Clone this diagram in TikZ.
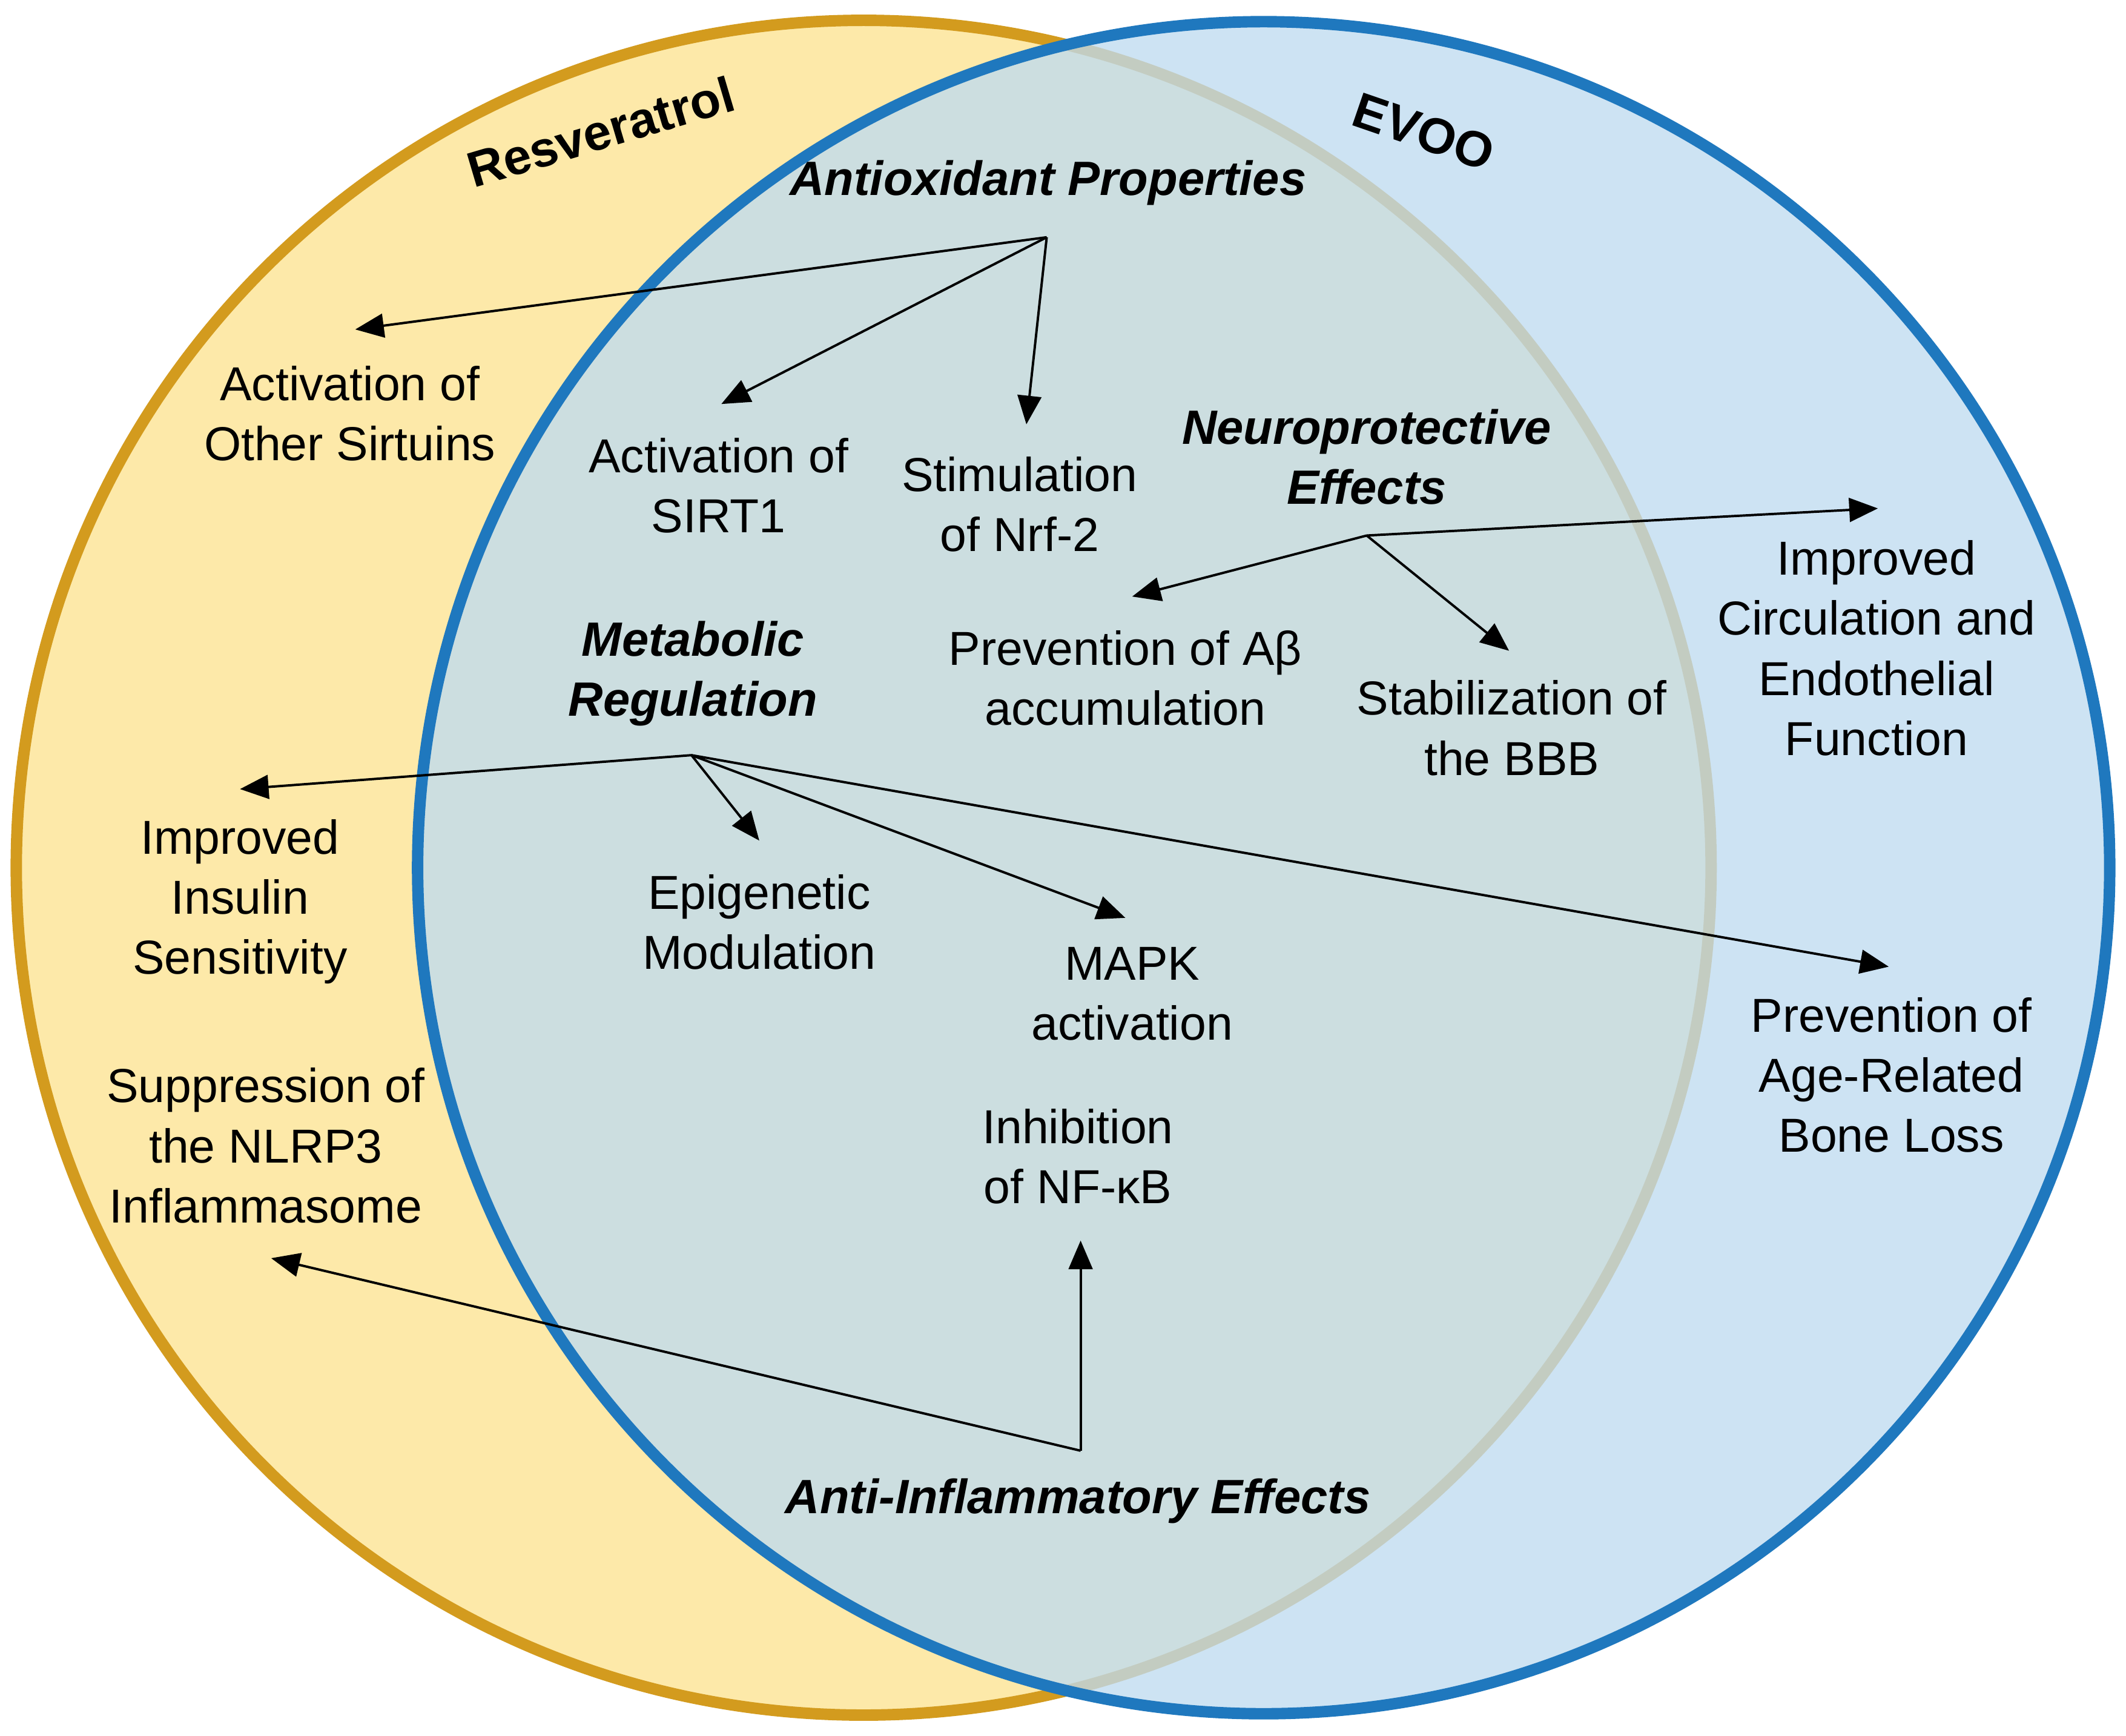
\documentclass[tikz,border=0pt]{standalone}
\usepackage{fontspec}
\setmainfont{Liberation Sans}
\usetikzlibrary{arrows.meta}
\definecolor{resfill}{HTML}{FDE9A9}
\definecolor{resline}{HTML}{D39B1E}
\definecolor{evoofill}{HTML}{BFDBF0}
\definecolor{evooline}{HTML}{1F78BE}
\begin{document}
\begin{tikzpicture}[x={(0.01cm,0)},y={(0,-0.01cm)},
  lbl/.style={align=center,font=\fontsize{10}{12.6}\selectfont,inner sep=0pt},
  head/.style={lbl,font=\fontsize{10.1}{12.6}\selectfont\bfseries\itshape},
  arr/.style={-{Triangle[length=6pt,width=5pt]},line width=0.5pt}]
\useasboundingbox (0,0) rectangle (1568,1280);
% circles
\draw[fill=resfill,draw=resline,line width=2.4pt] (637,640) circle (625);
\fill[evoofill,opacity=0.78] (932,640) circle (624);
\draw[evooline,line width=2.4pt] (932,640) circle (624);
% set names
\node[lbl,font=\fontsize{10.5}{13}\selectfont\bfseries,rotate=16.5] (res) at (443,97) {Resveratrol};
\node[lbl,font=\fontsize{10.5}{13}\selectfont\bfseries,rotate=-19] (evoo) at (1050,97) {EVOO};
% headings
\node[head] (anti) at (773,135) {Antioxidant Properties};
\node[head] (neuro) at (1008,337) {Neuroprotective\\Effects};
\node[head] (meta) at (511,497) {Metabolic\\Regulation};
\node[head] (infl) at (795,1107) {Anti-Inflammatory Effects};
% labels
\node[lbl] (sirt) at (258,305) {Activation of\\Other Sirtuins};
\node[lbl] (sirt1) at (530,358) {Activation of\\SIRT1};
\node[lbl] (nrf) at (752,372) {Stimulation\\of Nrf-2};
\node[lbl] (circ) at (1384,478) {Improved\\Circulation and\\Endothelial\\Function};
\node[lbl] (abeta) at (830,500) {Prevention of Aβ\\accumulation};
\node[lbl] (bbb) at (1115,537) {Stabilization of\\the BBB};
\node[lbl] (insulin) at (177,665) {Improved\\Insulin\\Sensitivity};
\node[lbl] (epi) at (560,680) {Epigenetic\\Modulation};
\node[lbl] (mapk) at (835,733) {MAPK\\activation};
\node[lbl] (bone) at (1395,793) {Prevention of\\Age-Related\\Bone Loss};
\node[lbl] (nlrp) at (196,845) {Suppression of\\the NLRP3\\Inflammasome};
\node[lbl] (nfkb) at (795,853) {Inhibition\\of NF-κB};
% hubs
\coordinate (h1) at (772,175);
\coordinate (h2) at (1008,395);
\coordinate (h3) at (510,557);
\coordinate (h4) at (797,1070);
\coordinate (t1) at (262,243);
\coordinate (t2) at (532,298);
\coordinate (t3) at (757,313);
\coordinate (t4) at (1385,375);
\coordinate (t5) at (835,440);
\coordinate (t6) at (1113,480);
\coordinate (t7) at (177,582);
\coordinate (t8) at (560,620);
\coordinate (t9) at (830,677);
\coordinate (t10) at (1393,713);
\coordinate (t11) at (200,928);
\coordinate (t12) at (797,915);
% connectors
\draw[arr] (h1) -- (t1);
\draw[arr] (h1) -- (t2);
\draw[arr] (h1) -- (t3);
\draw[arr] (h2) -- (t4);
\draw[arr] (h2) -- (t5);
\draw[arr] (h2) -- (t6);
\draw[arr] (h3) -- (t7);
\draw[arr] (h3) -- (t8);
\draw[arr] (h3) -- (t9);
\draw[arr] (h3) -- (t10);
\draw[arr] (h4) -- (t11);
\draw[arr] (h4) -- (t12);
\end{tikzpicture}
\end{document}
